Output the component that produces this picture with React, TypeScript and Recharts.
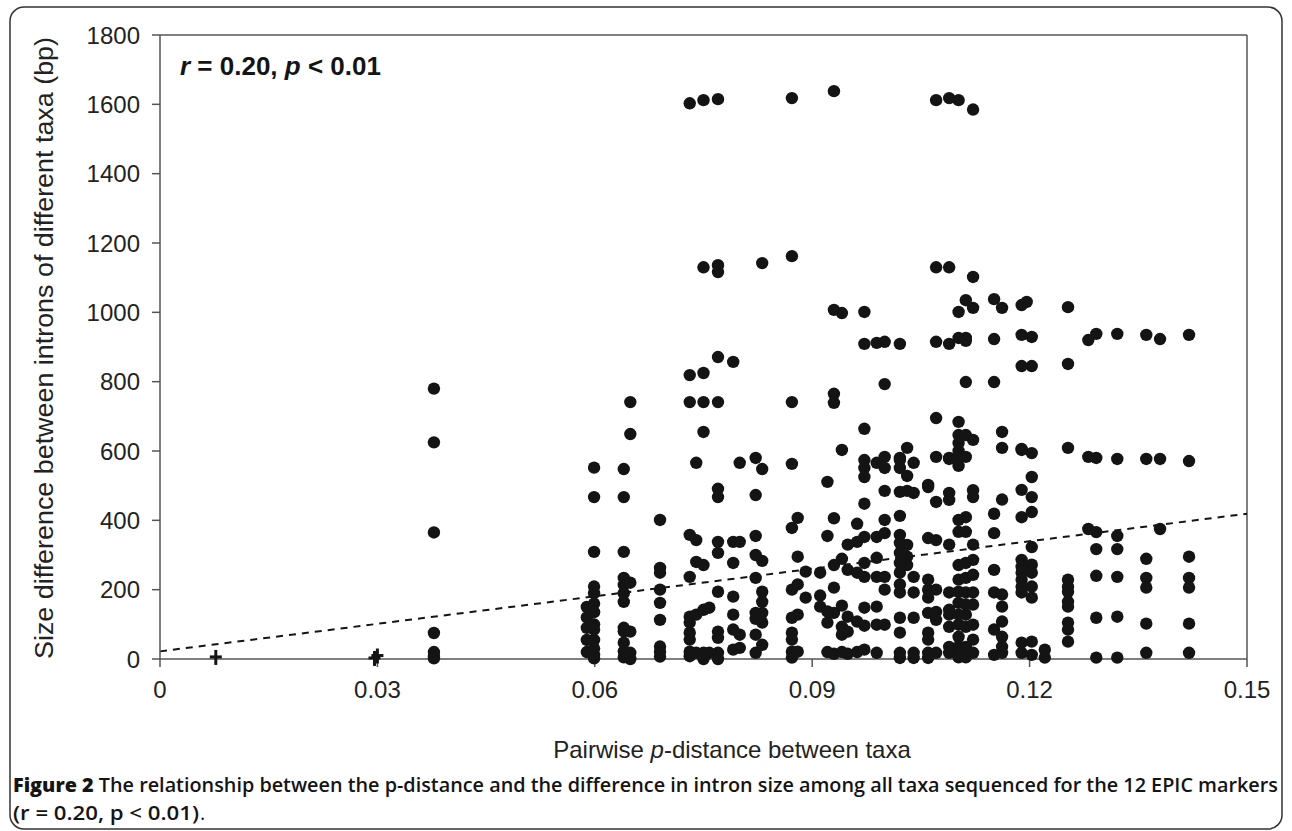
import React from 'react';
import {
    ScatterChart,
    Scatter,
    XAxis,
    YAxis,
    ReferenceLine,
} from 'recharts';

// each entry: [p-distance, size differences (bp) stacked in that column]
type Column = [number, number[]];

const lowColumns: Column[] = [
    [0.0378, [780, 625, 365, 75, 20, 8, 2]],
];

const midColumns: Column[] = [
    [0.0589, [150, 120, 90, 55, 20]],
    [0.0599, [552, 467, 309, 209, 190, 160, 135, 100, 85, 55, 30, 12, 2]],
    [0.064, [548, 467, 309, 234, 214, 190, 165, 90, 80, 47, 22, 5]],
    [0.0649, [741, 649, 220, 79, 18, 0]],
    [0.069, [401, 263, 249, 200, 162, 113, 36, 21, 7]],
    [0.0731, [1603, 819, 741, 358, 237, 122, 105, 76, 56, 21, 8]],
    [0.074, [566, 343, 280, 128, 18]],
    [0.075, [1612, 1130, 825, 741, 655, 271, 142, 18, 0]],
    [0.0758, [148, 18]],
    [0.077, [1615, 1136, 1116, 871, 741, 491, 467, 338, 306, 194, 79, 61, 18, 0]],
    [0.0791, [857, 338, 277, 180, 128, 85, 27]],
    [0.08, [566, 338, 70, 32]],
    [0.0822, [580, 473, 355, 300, 234, 133, 116, 70, 18]],
    [0.0831, [1142, 548, 283, 194, 165, 133, 105, 41]],
    [0.0872, [1618, 1162, 741, 563, 378, 200, 119, 76, 56, 21, 4]],
    [0.088, [407, 295, 215, 128, 21]],
    [0.0891, [252, 177]],
];

const highColumns: Column[] = [
    [0.0911, [249, 183, 151]],
    [0.0921, [511, 355, 137, 105, 20]],
    [0.093, [1638, 1007, 765, 739, 406, 271, 206, 133, 15]],
    [0.0941, [998, 603, 289, 154, 93, 70, 20]],
    [0.0949, [330, 257, 122, 79, 15]],
    [0.0962, [390, 338, 249, 108, 20]],
    [0.0972, [1001, 909, 664, 574, 551, 525, 448, 352, 277, 237, 148, 96, 27]],
    [0.0989, [912, 566, 352, 292, 237, 151, 99, 18]],
    [0.1, [915, 793, 583, 551, 485, 401, 363, 237, 200, 99]],
    [0.1021, [909, 580, 574, 551, 482, 413, 358, 335, 306, 277, 249, 215, 192, 119, 76, 18, 3]],
    [0.1031, [609, 528, 485, 329, 295, 271]],
    [0.104, [566, 479, 237, 192, 119, 18, 3]],
    [0.106, [502, 496, 349, 229, 200, 177, 133, 76, 56, 18, 3]],
    [0.1071, [1612, 1130, 915, 695, 583, 453, 343, 200, 136, 113, 18]],
    [0.1089, [1618, 1130, 909, 580, 577, 479, 459, 330, 192, 142, 128, 93, 35, 18]],
    [0.1102, [1612, 1001, 926, 684, 646, 623, 600, 580, 557, 401, 367, 271, 229, 194, 162, 128, 99, 64, 35, 18, 5]],
    [0.1112, [1035, 926, 918, 799, 646, 583, 409, 367, 277, 234, 192, 157, 128, 93, 35, 5]],
    [0.1122, [1585, 1102, 1013, 632, 487, 467, 330, 286, 243, 192, 157, 99, 56, 18]],
    [0.1151, [1038, 923, 799, 419, 363, 257, 192, 85, 12]],
    [0.1162, [1013, 655, 609, 460, 186, 151, 108, 64, 35, 18]],
];

const farColumns: Column[] = [
    [0.1189, [1021, 935, 845, 606, 603, 488, 409, 286, 266, 249, 229, 209, 192, 47, 18]],
    [0.1196, [1030]],
    [0.1203, [929, 845, 594, 525, 467, 424, 323, 272, 249, 209, 177, 50, 12]],
    [0.1221, [27, 4]],
    [0.1253, [1015, 851, 609, 229, 209, 194, 165, 151, 105, 85, 50]],
    [0.1281, [920, 583, 375]],
    [0.1292, [938, 580, 366, 317, 240, 119, 4]],
    [0.1321, [938, 577, 355, 317, 237, 122, 4]],
    [0.1361, [935, 577, 289, 234, 206, 102, 18]],
    [0.138, [923, 577, 375]],
    [0.142, [935, 571, 295, 234, 206, 102, 18]],
];

// the plus-shaped markers near zero
const crossPoints: [number, number][] = [
    [0.0077, 6],
    [0.0296, 3],
    [0.03, 10],
];

const xTicks = [0, 0.03, 0.06, 0.09, 0.12, 0.15];
const yTicks = [0, 200, 400, 600, 800, 1000, 1200, 1400, 1600, 1800];

// regression line end points (r = 0.20)
const trendLine = [
    { x: 0, y: 22 },
    { x: 0.15, y: 419 },
];

const dots = [...lowColumns, ...midColumns, ...highColumns, ...farColumns].flatMap(
    ([x, ys]) => ys.map((y) => ({ x, y }))
);
const crosses = crossPoints.map(([x, y]) => ({ x, y }));

const INK = '#141414';
const AXIS = '#555';
const FONT = '"Liberation Sans", Arial, sans-serif';

const Dot = (props: any) => <circle cx={props.cx} cy={props.cy} r={6.2} fill={INK} />;

const Plus = (props: any) => (
    <g stroke={INK} strokeWidth={3}>
        <line x1={props.cx - 6} y1={props.cy} x2={props.cx + 6} y2={props.cy} />
        <line x1={props.cx} y1={props.cy - 7} x2={props.cx} y2={props.cy + 8} />
    </g>
);

const App: React.FC = () => {
    return (
        <div
            style={{
                position: 'absolute',
                top: 0,
                left: 0,
                width: 1292,
                height: 831,
                background: '#fff',
                fontFamily: FONT,
            }}
        >
            <ScatterChart
                width={1292}
                height={831}
                margin={{ top: 35, right: 45, bottom: 112, left: 60 }}
            >
                <XAxis
                    type="number"
                    dataKey="x"
                    domain={[0, 0.15]}
                    ticks={xTicks}
                    tickFormatter={(v: number) => (v === 0 ? '0' : v.toFixed(2))}
                    height={60}
                    tickSize={8}
                    tickMargin={14}
                    axisLine={{ stroke: AXIS, strokeWidth: 1.5 }}
                    tickLine={{ stroke: AXIS, strokeWidth: 1.5 }}
                    tick={{ fontSize: 24, fill: '#222', fontFamily: FONT }}
                />
                <YAxis
                    type="number"
                    dataKey="y"
                    domain={[0, 1800]}
                    ticks={yTicks}
                    width={100}
                    tickSize={8}
                    tickMargin={12}
                    axisLine={{ stroke: AXIS, strokeWidth: 1.5 }}
                    tickLine={{ stroke: AXIS, strokeWidth: 1.5 }}
                    tick={{ fontSize: 24, fill: '#222', fontFamily: FONT }}
                />
                <ReferenceLine y={1800} stroke={AXIS} strokeWidth={1.5} />
                <ReferenceLine x={0.15} stroke={AXIS} strokeWidth={1.5} />
                <ReferenceLine
                    segment={trendLine}
                    stroke={INK}
                    strokeWidth={2}
                    strokeDasharray="7 6"
                />
                <Scatter data={dots} shape={Dot} isAnimationActive={false} />
                <Scatter data={crosses} shape={Plus} isAnimationActive={false} />
            </ScatterChart>

            <svg
                width={1292}
                height={831}
                style={{ position: 'absolute', top: 0, left: 0, pointerEvents: 'none' }}
            >
                <rect
                    x={10}
                    y={7}
                    width={1272}
                    height={822}
                    rx={14}
                    fill="none"
                    stroke="#333"
                    strokeWidth={1.5}
                />
                <text x={180} y={75} fontSize={26} fontWeight="bold" fill={INK} fontFamily={FONT}>
                    <tspan fontStyle="italic">r</tspan> = 0.20, <tspan fontStyle="italic">p</tspan> &lt; 0.01
                </text>
                <text
                    x={732}
                    y={758}
                    fontSize={24}
                    fill="#222"
                    textAnchor="middle"
                    fontFamily={FONT}
                >
                    Pairwise <tspan fontStyle="italic">p</tspan>-distance between taxa
                </text>
                <text
                    transform="translate(53, 348) rotate(-90)"
                    fontSize={25}
                    fill="#222"
                    textAnchor="middle"
                    fontFamily={FONT}
                    textLength={622}
                    lengthAdjust="spacingAndGlyphs"
                >
                    Size difference between introns of different taxa (bp)
                </text>
                <text
                    x={13}
                    y={792}
                    fontSize={20}
                    fill={INK}
                    fontFamily='"Open Sans", sans-serif'
                    fontWeight={600}
                    textLength={1265}
                    lengthAdjust="spacingAndGlyphs"
                >
                    <tspan fontWeight={800}>Figure 2</tspan> The relationship between the p-distance and the
                    difference in intron size among all taxa sequenced for the 12 EPIC markers
                </text>
                <text
                    x={13}
                    y={820}
                    fontSize={20}
                    fill={INK}
                    fontFamily='"Open Sans", sans-serif'
                    fontWeight={600}
                    textLength={186}
                    lengthAdjust="spacingAndGlyphs"
                >
                    (r = 0.20, p &lt; 0.01)
                </text>
                <text x={200} y={820} fontSize={20} fill={INK} fontFamily='"Open Sans", sans-serif'>
                    .
                </text>
            </svg>
        </div>
    );
};

export default App;
